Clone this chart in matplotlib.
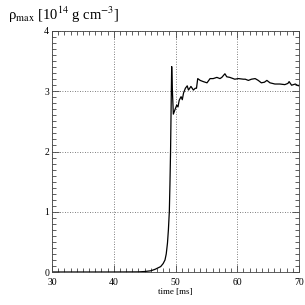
import matplotlib
matplotlib.use("Agg")
import matplotlib.pyplot as plt
from matplotlib.ticker import MultipleLocator

plt.rcParams['font.family'] = ['Liberation Serif', 'DejaVu Serif']
plt.rcParams['mathtext.fontset'] = 'stix'

time_ms = [30, 40, 44, 45, 46, 46.7, 47.2, 47.6, 48.0, 48.3, 48.5, 48.7, 48.85, 49.0,
           49.1, 49.2, 49.3, 49.38, 49.5, 49.65, 49.9, 50.2, 50.4, 50.6, 50.9, 51.1,
           51.3, 51.6, 51.9, 52.1, 52.5, 52.9, 53.2, 53.4, 53.6, 54.0, 54.5, 55.1,
           55.6, 56.1, 56.7, 57.2, 57.5, 58.0, 58.3, 58.8, 59.6, 60.2, 61.0, 61.3,
           61.8, 62.3, 62.9, 63.4, 63.9, 64.4, 64.8, 65.3, 66.1, 66.9, 67.7, 68.2,
           68.4, 68.8, 69.4, 69.9, 70]
rho_max = [0, 0, 0.002, 0.008, 0.02, 0.045, 0.07, 0.09, 0.14, 0.2, 0.3, 0.48, 0.7, 1.0,
           1.45, 2.0, 2.8, 3.41, 3.0, 2.62, 2.69, 2.77, 2.74, 2.85, 2.91, 2.86,
           2.97, 3.05, 3.09, 3.02, 3.08, 3.02, 3.05, 3.05, 3.21, 3.18, 3.16, 3.14,
           3.21, 3.21, 3.23, 3.21, 3.23, 3.29, 3.24, 3.23, 3.20, 3.21, 3.20, 3.20,
           3.18, 3.20, 3.21, 3.18, 3.14, 3.15, 3.18, 3.14, 3.12, 3.12, 3.11, 3.13,
           3.16, 3.10, 3.12, 3.09, 3.10]

fig = plt.figure(figsize=(3.05, 3.05), dpi=100)
ax = fig.add_axes([52/305, 1-272/305, 247/305, 241/305])
ax.plot(time_ms, rho_max, color='black', lw=0.9)
ax.set_xlim(30, 70)
ax.set_ylim(0, 4)
ax.xaxis.set_major_locator(MultipleLocator(10))
ax.xaxis.set_minor_locator(MultipleLocator(1))
ax.yaxis.set_major_locator(MultipleLocator(1))
ax.yaxis.set_minor_locator(MultipleLocator(0.1))
ax.tick_params(which='both', direction='in', top=True, right=True, labelsize=7,
               width=0.6, color='#444444')
ax.tick_params(which='major', length=5)
ax.tick_params(which='minor', length=3)
ax.tick_params(axis='x', pad=4)
ax.tick_params(axis='y', pad=2)
ax.grid(True, which='major', color='#555555', linestyle=(0, (1, 2)), lw=0.6)
for s in ax.spines.values():
    s.set_linewidth(0.6)
    s.set_color('#444444')
ax.set_xlabel('time [ms]', fontsize=6.5, labelpad=1)
fig.text(8/305, 1-15/305, r'ρ$_{\rm max}$ [10$^{14}$ g cm$^{-3}$]', fontsize=10.5,
         ha='left', va='center')
fig.savefig('out.png', dpi=100)
